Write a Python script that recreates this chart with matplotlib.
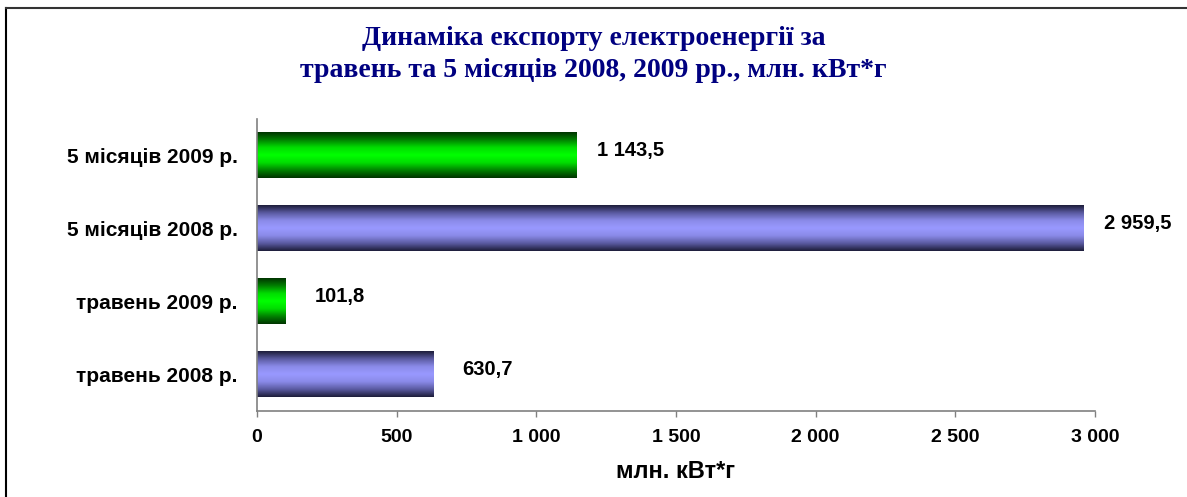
import matplotlib
matplotlib.use("Agg")
import matplotlib.pyplot as plt
import numpy as np
from matplotlib.colors import LinearSegmentedColormap
from matplotlib.lines import Line2D

categories = ["травень 2008 р.", "травень 2009 р.", "5 місяців 2008 р.", "5 місяців 2009 р."]
values = [630.7, 101.8, 2959.5, 1143.5]
value_labels = ["630,7", "101,8", "2 959,5", "1 143,5"]
series_kind = ["2008", "2009", "2008", "2009"]
xticks = [0, 500, 1000, 1500, 2000, 2500, 3000]
xtick_labels = ["0", "500", "1 000", "1 500", "2 000", "2 500", "3 000"]
title = "Динаміка експорту електроенергії за\nтравень та 5 місяців 2008, 2009 рр., млн. кВт*г"
xlabel = "млн. кВт*г"

cmaps = {
    "2008": LinearSegmentedColormap.from_list("b", ["#1c1c38", "#5a5aa0", "#8a8ae8", "#9999ff", "#8a8ae8", "#5a5aa0", "#1c1c38"]),
    "2009": LinearSegmentedColormap.from_list("g", ["#003300", "#008000", "#00dd00", "#00ff00", "#00dd00", "#008000", "#003300"]),
}

W, H = 1187, 497
fig = plt.figure(figsize=(W / 100, H / 100), dpi=100)
ax = fig.add_axes([257 / W, 1 - 410.5 / H, (1095 - 257) / W, (410.5 - 118.5) / H])

bars = ax.barh(range(len(categories)), values, height=0.63, color="none", edgecolor="none")
grad = np.linspace(0, 1, 256).reshape(-1, 1)
for b, kind in zip(bars, series_kind):
    x0, y0, w, h = b.get_x(), b.get_y(), b.get_width(), b.get_height()
    ax.imshow(grad, cmap=cmaps[kind], aspect="auto", extent=[x0, x0 + w, y0, y0 + h],
              origin="lower", interpolation="bicubic", zorder=2)

for b, lab in zip(bars, value_labels):
    ax.annotate(lab, (b.get_width(), b.get_y() + b.get_height() / 2),
                xytext=(39, 3.5), textcoords="offset points", ha="center", va="center",
                fontsize=14.5, fontweight="bold", family="Liberation Sans")

ax.set_xlim(0, 3000)
ax.set_ylim(-0.5, len(categories) - 0.5)
ax.set_xticks(xticks)
ax.set_xticklabels(xtick_labels, fontsize=14, fontweight="bold", family="Liberation Sans")
ax.set_yticks(range(len(categories)))
ax.set_yticklabels(categories, fontsize=15, fontweight="bold", family="Liberation Sans")
ax.tick_params(axis="y", length=0, pad=14)
ax.tick_params(axis="x", length=4.5, width=1, color="#808080", pad=9)
for s in ["top", "right"]:
    ax.spines[s].set_visible(False)
for s in ["left", "bottom"]:
    ax.spines[s].set_color("#808080")
    ax.spines[s].set_linewidth(1.2)
ax.set_xlabel(xlabel, fontsize=17, fontweight="bold", family="Liberation Sans", labelpad=10)

fig.text(0.5, 1 - 54.5 / H, title, ha="center", va="center", fontsize=20, fontweight="bold",
         family="Liberation Serif", color="#000080", linespacing=1.38)

# outer frame (left and top visible)
fig.add_artist(Line2D([6 / W, 6 / W], [0, 1 - 8 / H], color="black", lw=1.5, transform=fig.transFigure))
fig.add_artist(Line2D([6 / W, 1], [1 - 8 / H, 1 - 8 / H], color="#333333", lw=1.5, transform=fig.transFigure))

fig.savefig("out.png", dpi=100)
